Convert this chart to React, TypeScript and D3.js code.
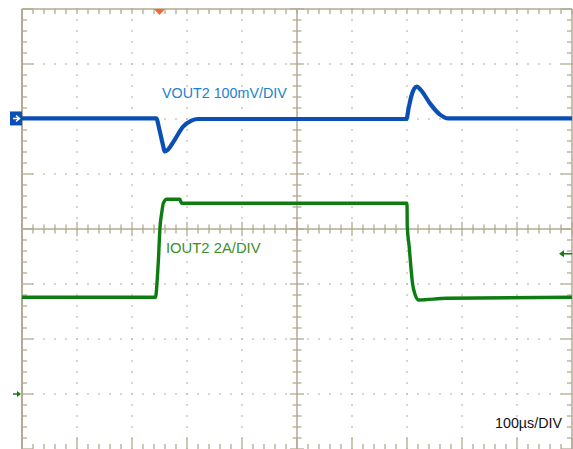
import React from "react"
import * as d3 from "d3"

// time in divisions (100us/div), value in divisions from screen centre
const voutTime = [0, 2.44, 2.5, 2.55, 2.6, 2.65, 2.75, 2.93, 3.08, 3.2, 6.99, 7.03, 7.08, 7.13, 7.18, 7.25, 7.42, 7.6, 7.75, 10]
const voutDiv = [2.01, 2.01, 1.8, 1.58, 1.41, 1.44, 1.58, 1.86, 1.97, 2.0, 2.0, 2.2, 2.42, 2.55, 2.59, 2.53, 2.28, 2.08, 2.01, 2.01]

const ioutTime = [0, 2.43, 2.44, 2.48, 2.51, 2.54, 2.57, 2.63, 2.87, 2.9, 7.0, 7.005, 7.04, 7.07, 7.1, 7.15, 7.21, 7.72, 10]
const ioutDiv = [-1.242, -1.242, -1.164, -0.564, 0.042, 0.29, 0.47, 0.54, 0.54, 0.467, 0.467, 0.042, -0.322, -0.685, -0.987, -1.2, -1.29, -1.26, -1.24]

const labels = { vout: "VOUT2 100mV/DIV", iout: "IOUT2 2A/DIV", time: "100\u00b5s/DIV" }
const vGround = 2.01
const iGround = -3
const triggerTime = 2.5
const triggerLevel = -0.45

const W = 573
const H = 449
const gridColor = "#b3aa92"
const dotColor = "#c6bea8"
const blue = "#0a50b4"
const green = "#0d7d12"

export default function App() {
  const x = d3.scaleLinear().domain([0, 10]).range([22, 572])
  const y = d3.scaleLinear().domain([-4, 4]).range([449, 9])

  const vout = voutTime.map((t, i) => [t, voutDiv[i]] as [number, number])
  const iout = ioutTime.map((t, i) => [t, ioutDiv[i]] as [number, number])

  const line = d3
    .line<[number, number]>()
    .x(d => x(d[0]))
    .y(d => y(d[1]))
    .curve(d3.curveMonotoneX)

  const minorX = d3.range(0, 50.01, 1).map(d => d / 5)
  const minorY = d3.range(0, 40.01, 1).map(d => d / 5 - 4)
  const majorX = d3.range(1, 10)
  const majorY = d3.range(-3, 4)

  const dots: JSX.Element[] = []
  majorX.filter(m => m !== 5).forEach(m => {
    minorY.forEach((v, i) => {
      dots.push(<rect key={`vx${m}-${i}`} x={x(m) - 0.8} y={y(v) - 0.8} width={1.6} height={1.6} fill={dotColor} />)
    })
  })
  majorY.filter(m => m !== 0).forEach(m => {
    minorX.forEach((t, i) => {
      dots.push(<rect key={`hy${m}-${i}`} x={x(t) - 0.8} y={y(m) - 0.8} width={1.6} height={1.6} fill={dotColor} />)
    })
  })

  const isMajor = (v: number) => Math.abs(v - Math.round(v)) < 1e-6

  return (
    <svg width={W} height={H} style={{ position: "absolute", left: 0, top: 0, background: "#fff" }}>
      <rect x={0} y={0} width={W} height={H} fill="#fff" />
      {dots}
      {/* centre axes */}
      <line x1={x(0)} x2={x(10)} y1={y(0)} y2={y(0)} stroke={gridColor} strokeWidth={1.5} />
      <line x1={x(5)} x2={x(5)} y1={y(4)} y2={y(-4)} stroke={gridColor} strokeWidth={1.5} />
      {minorX.map((t, i) => {
        const len = isMajor(t) ? 7 : 4.5
        return <line key={`cx${i}`} x1={x(t)} x2={x(t)} y1={y(0) - len} y2={y(0) + len} stroke={gridColor} strokeWidth={1.3} />
      })}
      {minorY.map((v, i) => {
        const len = isMajor(v) ? 7 : 4.5
        return <line key={`cy${i}`} x1={x(5) - len} x2={x(5) + len} y1={y(v)} y2={y(v)} stroke={gridColor} strokeWidth={1.3} />
      })}
      {/* border ticks */}
      {minorY.map((v, i) => {
        const len = isMajor(v) ? 11 : 5
        return (
          <g key={`by${i}`}>
            <line x1={x(0)} x2={x(0) + len} y1={y(v)} y2={y(v)} stroke={gridColor} strokeWidth={1.3} />
            <line x1={x(10)} x2={x(10) - len} y1={y(v)} y2={y(v)} stroke={gridColor} strokeWidth={1.3} />
          </g>
        )
      })}
      {minorX.map((t, i) => {
        const len = isMajor(t) ? 11 : 5
        return (
          <g key={`bx${i}`}>
            <line x1={x(t)} x2={x(t)} y1={y(4)} y2={y(4) + 5} stroke={gridColor} strokeWidth={1.3} />
            <line x1={x(t)} x2={x(t)} y1={y(-4)} y2={y(-4) - len} stroke={gridColor} strokeWidth={1.3} />
          </g>
        )
      })}
      <line x1={x(0)} x2={x(10)} y1={y(4)} y2={y(4)} stroke={gridColor} strokeWidth={1.5} />
      <line x1={x(0)} x2={x(0)} y1={y(4)} y2={y(-4)} stroke={gridColor} strokeWidth={2} />
      <line x1={x(10)} x2={x(10)} y1={y(4)} y2={y(-4)} stroke={gridColor} strokeWidth={1.5} />

      {/* traces */}
      <path d={line(iout) ?? ""} fill="none" stroke={green} strokeWidth={3.4} strokeLinejoin="round" />
      <path d={line(vout) ?? ""} fill="none" stroke={blue} strokeWidth={4.2} strokeLinejoin="round" />

      {/* labels */}
      <text x={162} y={98} fontFamily="Liberation Sans, Arial, sans-serif" fontSize={14.3} fill="#1c7fd2">
        {labels.vout}
      </text>
      <text x={166} y={253} fontFamily="Liberation Sans, Arial, sans-serif" fontSize={14.8} fill="#3a8f2c">
        {labels.iout}
      </text>
      <text x={495} y={428} fontFamily="Liberation Sans, Arial, sans-serif" fontSize={14.3} fill="#111">
        {labels.time}
      </text>

      {/* channel 1 ground marker */}
      <rect x={10} y={y(vGround) - 7} width={12} height={14} fill={blue} />
      <path
        d={`M13,${y(vGround)} H19 M16,${y(vGround) - 3} L19.5,${y(vGround)} L16,${y(vGround) + 3}`}
        stroke="#fff"
        strokeWidth={1.5}
        fill="none"
      />
      {/* channel 2 ground marker */}
      <path d={`M13,${y(iGround)} H20`} stroke={green} strokeWidth={1.5} />
      <path d={`M17,${y(iGround) - 3} L21,${y(iGround)} L17,${y(iGround) + 3} Z`} fill={green} />
      {/* trigger position */}
      <path d={`M${x(triggerTime) - 5.5},${y(4)} L${x(triggerTime) + 5.5},${y(4)} L${x(triggerTime)},${y(4) + 6} Z`} fill="#f26a2e" />
      {/* trigger level */}
      <path d={`M563,${y(triggerLevel)} H572`} stroke={green} strokeWidth={1.5} />
      <path d={`M564,${y(triggerLevel) - 3.5} L559,${y(triggerLevel)} L564,${y(triggerLevel) + 3.5} Z`} fill={green} />
    </svg>
  )
}
